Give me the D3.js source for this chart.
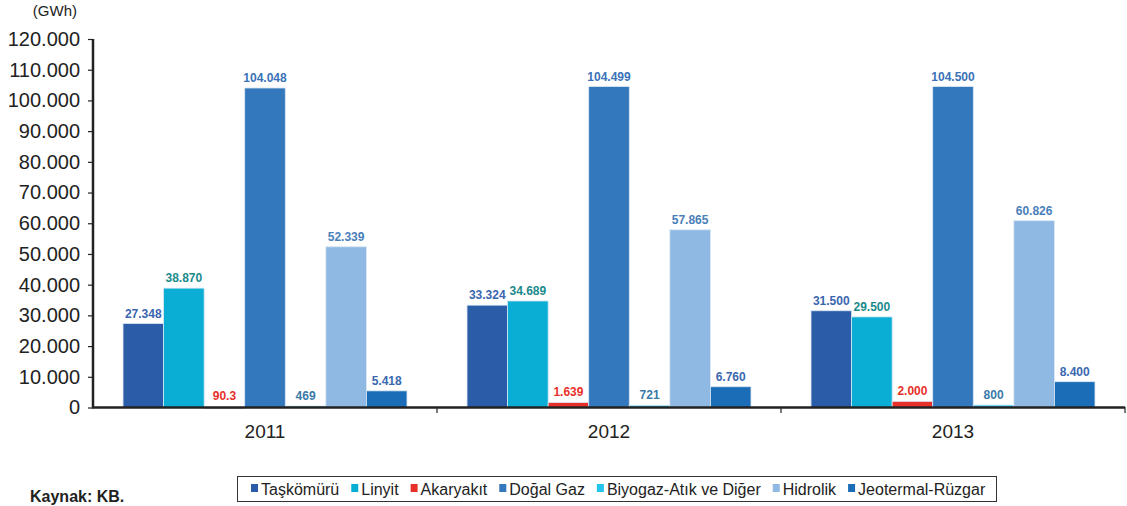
<!DOCTYPE html>
<html><head><meta charset="utf-8">
<script src="https://cdn.jsdelivr.net/npm/d3@7"></script>
<style>body{margin:0;background:#fff}svg{display:block;font-family:"Liberation Sans",Arial,Helvetica,sans-serif}</style>
</head><body><svg id="c" width="1127" height="506"></svg>
<script>
const years = ["2011","2012","2013"];
const series = ["Taşkömürü","Linyit","Akaryakıt","Doğal Gaz","Biyogaz-Atık ve Diğer","Hidrolik","Jeotermal-Rüzgar"];
const taskomuru = [27348, 33324, 31500];
const linyit = [38870, 34689, 29500];
const akaryakit = [90.3, 1639, 2000];
const dogalGaz = [104048, 104499, 104500];
const biyogaz = [469, 721, 800];
const hidrolik = [52339, 57865, 60826];
const jeotermal = [5418, 6760, 8400];
const labels = [
  ["27.348","33.324","31.500"],
  ["38.870","34.689","29.500"],
  ["90.3","1.639","2.000"],
  ["104.048","104.499","104.500"],
  ["469","721","800"],
  ["52.339","57.865","60.826"],
  ["5.418","6.760","8.400"]
];
const yTicks = [0,10000,20000,30000,40000,50000,60000,70000,80000,90000,100000,110000,120000];
const yTickLabels = ["0","10.000","20.000","30.000","40.000","50.000","60.000","70.000","80.000","90.000","100.000","110.000","120.000"];
const colors = ["#2a5ca8","#0aaed4","#e8302a","#3378bd","#22c3ec","#8fb9e2","#1a6db6"];
const labelColors = ["#3a66b0","#1b8a8c","#e8302a","#3a72b9","#3a7aa8","#4a80b9","#3a68b0"];
const values = [taskomuru, linyit, akaryakit, dogalGaz, biyogaz, hidrolik, jeotermal];

const svg = d3.select("#c");
const x0 = d3.scaleBand().domain(years).range([93,1125]).paddingInner(0).paddingOuter(0);
const x1 = d3.scaleBand().domain(series).range([0, x0.bandwidth()]).paddingInner(0).paddingOuter(0.74);
const y = d3.scaleLinear().domain([0,120000]).range([407.5,39]);

// bars
years.forEach((yr, i) => {
  const g = svg.append("g").attr("transform", `translate(${x0(yr)},0)`);
  series.forEach((s, j) => {
    const v = values[j][i];
    const top = y(v);
    g.append("rect").attr("x", x1(s)).attr("y", top).attr("width", x1.bandwidth())
      .attr("height", Math.max(y(0)-top, 1.5)).attr("fill", colors[j])
      .attr("stroke", "#d8e6f4").attr("stroke-width", 0.8);
    g.append("text").attr("x", x1(s)+x1.bandwidth()/2).attr("y", Math.min(top, y(0)-1.5)-6)
      .attr("text-anchor","middle").attr("font-size",12).attr("font-weight","bold")
      .attr("fill", labelColors[j]).text(labels[j][i]);
  });
});

// y axis
const yAxis = d3.axisLeft(y).tickValues(yTicks).tickFormat((d,i)=>yTickLabels[i]).tickSize(5).tickPadding(8);
const ya = svg.append("g").attr("transform","translate(93,0)").call(yAxis);
ya.select(".domain").attr("stroke","#222").attr("stroke-width",2.5).attr("d","M0,39V407.5");
ya.selectAll(".tick line").attr("stroke","#222").attr("stroke-width",1.2);
ya.selectAll(".tick text").attr("font-size",20).attr("fill","#222");

// x axis
const xAxis = d3.axisBottom(x0).tickSize(0).tickPadding(17);
const xa = svg.append("g").attr("transform","translate(0,407.5)").call(xAxis);
xa.select(".domain").attr("stroke","#222").attr("stroke-width",2.5).attr("d","M92,0H1125");
xa.selectAll(".tick text").attr("font-size",19).attr("fill","#222");
[437,781,1125].forEach(px => {
  svg.append("line").attr("x1",px).attr("x2",px).attr("y1",407).attr("y2",413).attr("stroke","#222").attr("stroke-width",1.2);
});

// unit
svg.append("text").attr("x",77).attr("y",16).attr("text-anchor","end").attr("font-size",15).attr("fill","#222").text("(GWh)");

// legend
const lg = svg.append("g");
lg.append("rect").attr("x",237.5).attr("y",476.5).attr("width",759).attr("height",25).attr("fill","#fff").attr("stroke","#333").attr("stroke-width",1);
let lx = 251;
series.forEach((s,j)=>{
  lg.append("rect").attr("x",lx).attr("y",484).attr("width",7).attr("height",8).attr("fill",colors[j]);
  const t = lg.append("text").attr("x",lx+10).attr("y",495).attr("font-size",16).attr("fill","#222").text(s);
  const w = t.node().getComputedTextLength();
  lx += 10 + w + 12;
});

// source
svg.append("text").attr("x",30).attr("y",502).attr("font-size",16).attr("font-weight","bold").attr("fill","#222").text("Kaynak: KB.");
</script></body></html>
